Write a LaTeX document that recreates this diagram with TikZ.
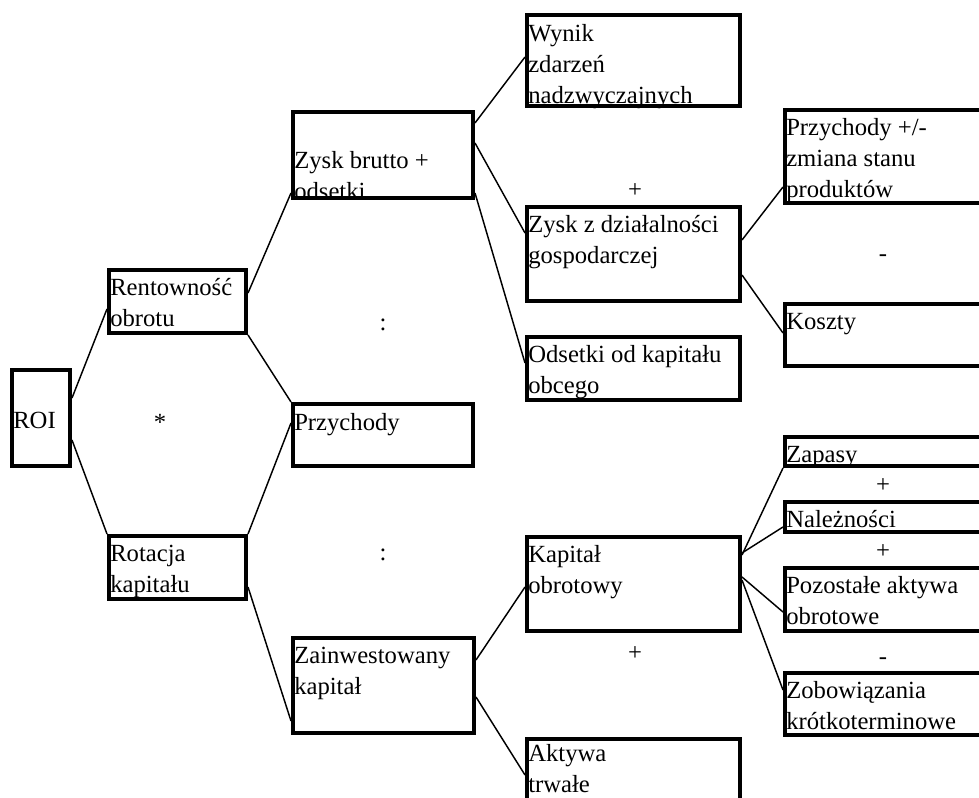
\documentclass[tikz,border=0pt]{standalone}
\usepackage{fontspec}
\setmainfont{Liberation Serif}
\usetikzlibrary{calc}

\begin{document}
\begin{tikzpicture}[x=0.75pt,y=-0.75pt,
  box/.style 2 args={draw,line width=3pt,anchor=north west,inner sep=0pt,
    minimum width=(#1-4)*0.75pt,minimum height=(#2-4)*0.75pt},
  txt/.style={anchor=north west,inner sep=0pt,align=left,
    font=\fontsize{18.5}{23.2}\selectfont},
  op/.style={anchor=base,inner sep=0pt,font=\fontsize{18.5}{23.2}\selectfont},
  link/.style={line width=1.1pt}]
\useasboundingbox (0,0) rectangle (979,798);
\clip (0,0) rectangle (979,798);

\node[box={62}{100}] (roi) at (10,368) {};
\node[box={141}{67}] (ren) at (107,268) {};
\node[box={141}{67}] (rot) at (107,534) {};
\node[box={184}{90}] (zb) at (291,110) {};
\node[box={184}{66}] (prz) at (291,402) {};
\node[box={185}{99}] (zai) at (291,636) {};
\node[box={217}{95}] (wyn) at (525,13) {};
\node[box={217}{98}] (zd) at (525,205) {};
\node[box={217}{67}] (ods) at (525,335) {};
\node[box={217}{98}] (kap) at (525,535) {};
\node[box={217}{90}] (akt) at (525,737) {};
\node[box={230}{97}] (pp) at (783,108) {};
\node[box={230}{66}] (kos) at (783,302) {};
\node[box={230}{33}] (zap) at (783,435) {};
\node[box={230}{34}] (nal) at (783,500) {};
\node[box={230}{67}] (poz) at (783,566) {};
\node[box={230}{66}] (zob) at (783,671) {};

% first baseline 27px below the top of each box
\node[txt] (roi-t) at ($(roi.north west)+(3,39)$) {\strut ROI};
\node[txt] (ren-t) at ($(ren.north west)+(3,5.35)$) {\strut Rentowność\\obrotu};
\node[txt] (rot-t) at ($(rot.north west)+(3,5.35)$) {\strut Rotacja\\kapitału};
\node[txt] (zb-t) at ($(zb.north west)+(3,36.35)$) {\strut Zysk brutto +\\odsetki};
\node[txt] (prz-t) at ($(prz.north west)+(3,7)$) {\strut Przychody};
\node[txt] (zai-t) at ($(zai.north west)+(3,5.35)$) {\strut Zainwestowany\\kapitał};
\node[txt] (wyn-t) at ($(wyn.north west)+(3,6.5)$) {\strut Wynik\\zdarzeń\\nadzwyczajnych};
\node[txt] (zd-t) at ($(zd.north west)+(3,5.35)$) {\strut Zysk z działalności\\gospodarczej};
\node[txt] (ods-t) at ($(ods.north west)+(3,5.35)$) {\strut Odsetki od kapitału\\obcego};
\node[txt] (kap-t) at ($(kap.north west)+(3,5.35)$) {\strut Kapitał\\obrotowy};
\node[txt] (akt-t) at ($(akt.north west)+(3,3)$) {\strut Aktywa\\trwałe};
\node[txt] (pp-t) at ($(pp.north west)+(3,5.35)$) {\strut Przychody +/-\\zmiana stanu\\produktów};
\node[txt] (kos-t) at ($(kos.north west)+(3,5.35)$) {\strut Koszty};
\node[txt] (zap-t) at ($(zap.north west)+(3,5.35)$) {\strut Zapasy};
\node[txt] (nal-t) at ($(nal.north west)+(3,5.35)$) {\strut Należności};
\node[txt] (poz-t) at ($(poz.north west)+(3,5.35)$) {\strut Pozostałe aktywa\\obrotowe};
\node[txt] (zob-t) at ($(zob.north west)+(3,5.35)$) {\strut Zobowiązania\\krótkoterminowe};

\node[op] (mul) at (160,431) {*};
\node[op] (div1) at (383,331) {:};
\node[op] (div2) at (383,561) {:};
\node[op] (add1) at (635,198) {+};
\node[op] (sub1) at (883,262) {-};
\node[op] (add2) at (635,661) {+};
\node[op] (add3) at (883,493) {+};
\node[op] (add4) at (883,559) {+};
\node[op] (sub2) at (883,664) {-};

\draw[link] ($(roi.north east)+(0,30)$) -- ($(ren.north west)+(0,41)$);
\draw[link] ($(roi.north east)+(0,72)$) -- (rot.north west);
\draw[link] ($(ren.north east)+(0,25)$) -- ($(zb.south west)+(0,-7)$);
\draw[link] (ren.south east) -- (prz.north west);
\draw[link] ($(prz.north west)+(0,21)$) -- (rot.north east);
\draw[link] ($(rot.north east)+(0,53)$) -- ($(zai.north west)+(0,85)$);
\draw[link] ($(zb.north east)+(0,13)$) -- ($(wyn.north west)+(0,44)$);
\draw[link] ($(zb.north east)+(0,33)$) -- ($(zd.north west)+(0,28)$);
\draw[link] ($(zb.north east)+(0,83)$) -- ($(ods.north west)+(0,28)$);
\draw[link] ($(zd.north east)+(0,35)$) -- ($(pp.north west)+(0,79)$);
\draw[link] ($(zd.north east)+(0,70)$) -- ($(kos.north west)+(0,31)$);
\draw[link] ($(zai.north east)+(0,24)$) -- ($(kap.north west)+(0,52)$);
\draw[link] ($(zai.north east)+(0,61)$) -- ($(akt.north west)+(0,38)$);
\draw[link] ($(kap.north east)+(0,20)$) -- (zap.south west);
\draw[link] ($(kap.north east)+(0,18)$) -- ($(nal.north west)+(0,27)$);
\draw[link] ($(kap.north east)+(0,42)$) -- ($(poz.north west)+(0,46)$);
\draw[link] ($(kap.north east)+(0,45)$) -- ($(zob.north west)+(0,19)$);
\end{tikzpicture}
\end{document}
